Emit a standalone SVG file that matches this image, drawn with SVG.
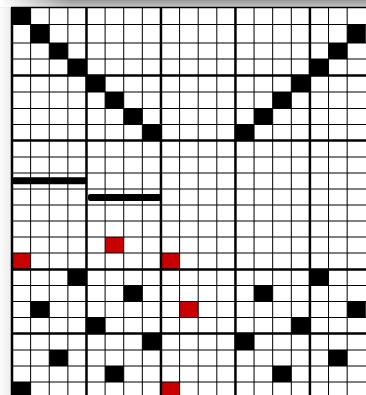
<svg xmlns="http://www.w3.org/2000/svg" width="366" height="395" viewBox="0 0 366 395">
<defs>
<linearGradient id="topShade" x1="0" y1="0" x2="0" y2="1">
<stop offset="0" stop-color="#9a9a9a"/>
<stop offset="1" stop-color="#c6c6c6"/>
</linearGradient>
<linearGradient id="cornerFade" x1="0" y1="0" x2="1" y2="0">
<stop offset="0" stop-color="#ffffff" stop-opacity="1"/>
<stop offset="1" stop-color="#ffffff" stop-opacity="0"/>
</linearGradient>
<linearGradient id="leftShade" x1="0" y1="0" x2="1" y2="0">
<stop offset="0" stop-color="#fbfbfb"/>
<stop offset="1" stop-color="#ececec"/>
</linearGradient>
<style>
.thin{stroke:#000;stroke-width:1;fill:none}
.thick{stroke:#000;stroke-width:2.5;fill:none}
.blk{fill:#000}
.red{fill:#c80000}
.bar{fill:#000}
</style>
</defs>
<rect x="0" y="0" width="366" height="395" fill="#ffffff"/>
<rect x="0" y="0" width="12" height="395" fill="url(#leftShade)"/>
<rect x="0" y="0" width="366" height="7.5" fill="url(#topShade)"/>
<rect x="0" y="0" width="70" height="7.5" fill="url(#cornerFade)"/>
<rect x="12" y="7.5" width="354" height="388" fill="#ffffff"/>

<g id="cells">
<!-- top-left diagonal -->
<rect class="blk" x="12" y="7.5" width="18.62" height="17"/>
<rect class="blk" x="30.62" y="24.5" width="18.62" height="18.5"/>
<rect class="blk" x="49.24" y="43" width="18.62" height="16"/>
<rect class="blk" x="67.86" y="59" width="18.62" height="16.5"/>
<rect class="blk" x="86.48" y="75.5" width="18.62" height="16.5"/>
<rect class="blk" x="105.1" y="92" width="18.62" height="16.5"/>
<rect class="blk" x="123.72" y="108.5" width="18.62" height="16"/>
<rect class="blk" x="142.34" y="124.5" width="18.62" height="16"/>
<!-- top-right diagonal -->
<rect class="blk" x="235.44" y="124.5" width="18.62" height="16"/>
<rect class="blk" x="254.06" y="108.5" width="18.62" height="16"/>
<rect class="blk" x="272.68" y="92" width="18.62" height="16.5"/>
<rect class="blk" x="291.3" y="75.5" width="18.62" height="16.5"/>
<rect class="blk" x="309.92" y="59" width="18.62" height="16.5"/>
<rect class="blk" x="328.54" y="43" width="18.62" height="16"/>
<rect class="blk" x="347.16" y="24.5" width="18.62" height="18.5"/>
<!-- lower left pattern -->
<rect class="blk" x="67.86" y="269.5" width="18.62" height="16"/>
<rect class="blk" x="123.72" y="285.5" width="18.62" height="16"/>
<rect class="blk" x="30.62" y="301.5" width="18.62" height="16"/>
<rect class="blk" x="86.48" y="317.5" width="18.62" height="16"/>
<rect class="blk" x="142.34" y="333.5" width="18.62" height="16.5"/>
<rect class="blk" x="49.24" y="350" width="18.62" height="16"/>
<rect class="blk" x="105.1" y="366" width="18.62" height="16"/>
<rect class="blk" x="12" y="382" width="18.62" height="16"/>
<!-- lower right pattern -->
<rect class="blk" x="309.92" y="269.5" width="18.62" height="16"/>
<rect class="blk" x="254.06" y="285.5" width="18.62" height="16"/>
<rect class="blk" x="347.16" y="301.5" width="18.62" height="16"/>
<rect class="blk" x="291.3" y="317.5" width="18.62" height="16"/>
<rect class="blk" x="235.44" y="333.5" width="18.62" height="16.5"/>
<rect class="blk" x="328.54" y="350" width="18.62" height="16"/>
<rect class="blk" x="272.68" y="366" width="18.62" height="16"/>
<!-- red cells -->
<rect class="red" x="105.1" y="237" width="18.62" height="16"/>
<rect class="red" x="12" y="253" width="18.62" height="16.5"/>
<rect class="red" x="160.96" y="253" width="18.62" height="16.5"/>
<rect class="red" x="179.58" y="301.5" width="18.62" height="16"/>
<rect class="red" x="160.96" y="382" width="18.62" height="16"/>
</g>

<g id="grid">
<g class="thin">
<line x1="30.62" y1="7.5" x2="30.62" y2="395"/>
<line x1="49.24" y1="7.5" x2="49.24" y2="395"/>
<line x1="67.86" y1="7.5" x2="67.86" y2="395"/>
<line x1="105.1" y1="7.5" x2="105.1" y2="395"/>
<line x1="123.72" y1="7.5" x2="123.72" y2="395"/>
<line x1="142.34" y1="7.5" x2="142.34" y2="395"/>
<line x1="179.58" y1="7.5" x2="179.58" y2="395"/>
<line x1="198.2" y1="7.5" x2="198.2" y2="395"/>
<line x1="216.82" y1="7.5" x2="216.82" y2="395"/>
<line x1="254.06" y1="7.5" x2="254.06" y2="395"/>
<line x1="272.68" y1="7.5" x2="272.68" y2="395"/>
<line x1="291.3" y1="7.5" x2="291.3" y2="395"/>
<line x1="328.54" y1="7.5" x2="328.54" y2="395"/>
<line x1="347.16" y1="7.5" x2="347.16" y2="395"/>
<line x1="12" y1="24.5" x2="366" y2="24.5"/>
<line x1="12" y1="43" x2="366" y2="43"/>
<line x1="12" y1="59" x2="366" y2="59"/>
<line x1="12" y1="92" x2="366" y2="92"/>
<line x1="12" y1="108.5" x2="366" y2="108.5"/>
<line x1="12" y1="124.5" x2="366" y2="124.5"/>
<line x1="12" y1="157" x2="366" y2="157"/>
<line x1="12" y1="173" x2="366" y2="173"/>
<line x1="12" y1="189" x2="366" y2="189"/>
<line x1="12" y1="205" x2="366" y2="205"/>
<line x1="12" y1="221" x2="366" y2="221"/>
<line x1="12" y1="237" x2="366" y2="237"/>
<line x1="12" y1="253" x2="366" y2="253"/>
<line x1="12" y1="285.5" x2="366" y2="285.5"/>
<line x1="12" y1="301.5" x2="366" y2="301.5"/>
<line x1="12" y1="317.5" x2="366" y2="317.5"/>
<line x1="12" y1="350" x2="366" y2="350"/>
<line x1="12" y1="366" x2="366" y2="366"/>
<line x1="12" y1="382" x2="366" y2="382"/>
</g>
<g class="thick">
<line x1="12" y1="7.5" x2="12" y2="395"/>
<line x1="86.48" y1="7.5" x2="86.48" y2="395"/>
<line x1="160.96" y1="7.5" x2="160.96" y2="395"/>
<line x1="235.44" y1="7.5" x2="235.44" y2="395"/>
<line x1="309.92" y1="7.5" x2="309.92" y2="395"/>
<line x1="12" y1="75.5" x2="366" y2="75.5"/>
<line x1="12" y1="140.5" x2="366" y2="140.5"/>
<line x1="12" y1="269.5" x2="366" y2="269.5"/>
<line x1="12" y1="333.5" x2="366" y2="333.5"/>
</g>
<line x1="11" y1="7.5" x2="366" y2="7.5" stroke="#000" stroke-width="1.5"/>
</g>

<g id="bars">
<rect class="bar" x="12" y="177.3" width="75" height="7" rx="2"/>
<rect class="bar" x="88" y="194" width="73" height="7" rx="2"/>
</g>
</svg>
